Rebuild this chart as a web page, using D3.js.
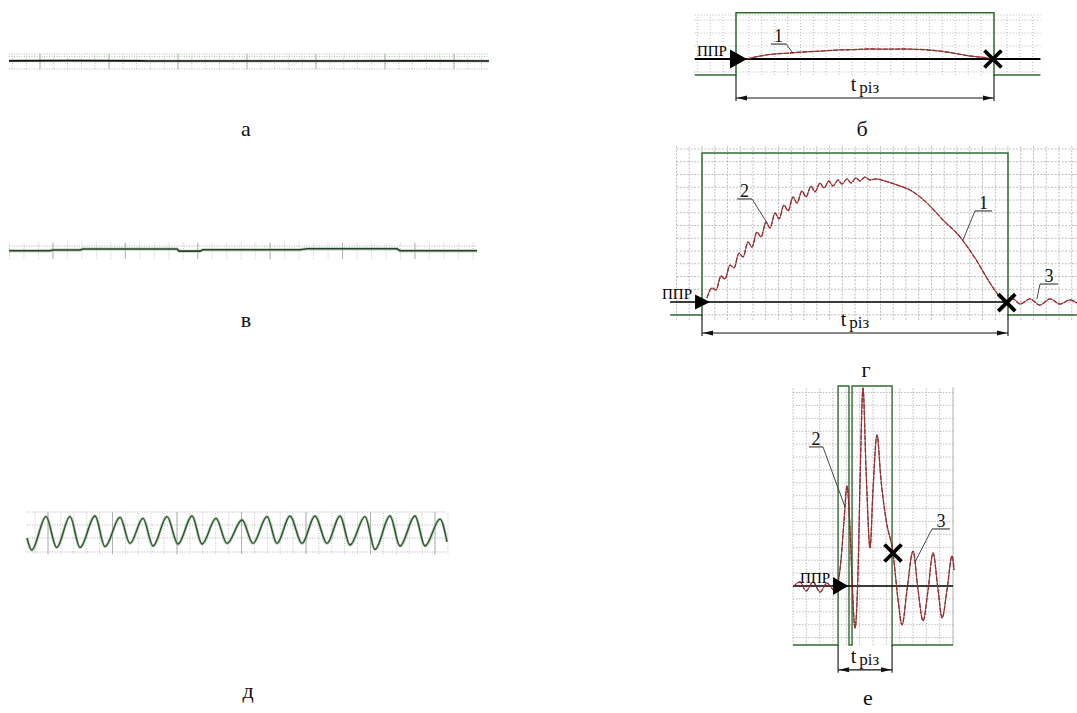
<!DOCTYPE html>
<html><head><meta charset="utf-8">
<script src="https://cdn.jsdelivr.net/npm/d3@7"></script>
<style>body{margin:0;background:#fff} svg{display:block} text{font-family:"Liberation Serif","Times New Roman","DejaVu Serif",serif}</style>
</head><body>
<svg id="c" width="1077" height="713"></svg>
<script>
// ---------------- DATA ----------------
const panelLabels = ["а", "б", "в", "г", "д", "е"];
const markerText = "ППР";
const durationMain = "t";
const durationSub = "різ";
const calloutNames = ["1", "2", "3"];

// panel а: flat trace (time, amplitude)
const traceA = [[0,0.02],[60,0.04],[130,0.02],[140,0],[330,0],[420,0.02],[480,0]];
// panel в: nearly flat trace
const traceV = [[0,-0.09],[41,-0.09],[44,0],[71,0],[74,0.12],[168,0.12],[170,-0.14],[191,-0.14],[194,0.04],[291,0.04],[298,0.16],[388,0.16],[391,-0.09],[468,-0.09]];
// panel д: periodic trace extrema
const traceD = [[0,-0.3],[4.7,-0.9],[19,0.77],[29.7,-0.77],[43,0.77],[53,-0.77],[68,0.8],[78,-0.73],[93,0.73],[103,-0.57],[116,0.68],[126,-0.7],[140,0.77],[151,-0.6],[165,0.8],[175,-0.6],[189,0.68],[200,-0.57],[215,0.6],[226,-0.57],[240,0.77],[250,-0.57],[263,0.8],[275,-0.57],[288,0.8],[300,-0.57],[313,0.8],[323,-0.65],[338,0.77],[348,-0.87],[363,0.8],[373,-0.7],[388,0.8],[398,-0.7],[413,0.64],[420,-0.49]];

// panel б: curve 1 (time div, amplitude div)
const curveB1 = [[0.85,0],[1.47,0.15],[2.64,0.35],[4.19,0.46],[5.19,0.54],[6.5,0.6],[7.83,0.69],[9.1,0.72],[10.39,0.77],[11.7,0.76],[12.95,0.77],[14.0,0.74],[15.04,0.69],[16.0,0.58],[16.82,0.46],[18.14,0.23],[19.46,0.08],[19.92,0]];
const gateB = [0, 20];
const gateLevelsB = [-1.23, 3.56];

// panel г: curves 2 + 1 and 3
const curveG = [[0.39,0.31],[0.78,1.10],[1.10,0.94],[1.49,2.04],[1.80,1.80],[2.20,2.90],[2.51,2.67],[2.90,3.84],[3.22,3.53],[3.61,4.71],[3.92,4.31],[4.31,5.49],[4.63,5.10],[5.02,6.27],[5.33,5.80],[5.73,6.98],[6.04,6.51],[6.43,7.61],[6.75,7.14],[7.14,8.24],[7.45,7.76],[7.84,8.71],[8.16,8.24],[8.55,9.10],[8.86,8.63],[9.25,9.33],[9.57,8.94],[9.96,9.49],[10.27,9.10],[10.67,9.57],[10.98,9.25],[11.37,9.65],[11.69,9.33],[12.08,9.73],[12.39,9.49],[12.78,9.80],[13.18,9.57],[13.65,9.65],[14.35,9.49],[15.29,9.18],[16.31,8.78],[17.65,7.76],[18.90,6.43],[20.24,5.10],[21.41,3.45],[22.59,1.49],[23.37,0.39],[23.76,0]];
const curveG3 = [[23.76,0],[24.4,0.24],[24.94,-0.16],[25.73,0.24],[26.5,-0.24],[27.3,0.24],[28.08,-0.16],[28.86,0.16],[29.4,-0.08]];
const gateG = [0, 24];
const gateLevelsG = [-1.02, 11.69];

// panel е: oscillating curve
const curveE = [[0,-0.08],[0.53,0.31],[0.98,-0.39],[1.50,0.31],[2.03,-0.47],[2.55,0.23],[3.08,-0.31],[3.38,0.31],[3.60,2.02],[3.83,5.12],[4.05,7.75],[4.28,4.34],[4.43,0.47],[4.65,-3.26],[4.88,1.24],[5.03,8.22],[5.25,15.35],[5.48,8.99],[5.78,2.95],[6.00,7.44],[6.30,11.71],[6.60,8.22],[6.98,5.12],[7.50,2.56],[7.88,-1.09],[8.18,-3.02],[8.55,-0.31],[9.00,2.71],[9.38,-0.31],[9.75,-2.71],[10.13,-0.31],[10.50,2.56],[10.88,-0.31],[11.18,-2.48],[11.55,-0.31],[11.93,2.33],[12.08,1.24]];
const gatesE = [[3.38, 4.2], [4.43, 7.43]];
const gateLevelsE = [-4.57, 15.5];
const cutE = [7.5, 2.56];

// ---------------- DRAWING ----------------
const svg = d3.select("#c");
const GRID = "#a8a8a8", GREEN = "#2f6b30", RED = "#a3262a";

function lineGen(xs, ys, curve) {
  return d3.line().x(d => xs(d[0])).y(d => ys(d[1])).curve(curve || d3.curveLinear);
}
function vlines(g, xs, ys, ts, v0, v1, color, dash, w) {
  g.append("g").selectAll("line").data(ts).join("line")
    .attr("x1", d => xs(d)).attr("x2", d => xs(d)).attr("y1", ys(v0)).attr("y2", ys(v1))
    .attr("stroke", color).attr("stroke-width", w || 0.8).attr("stroke-dasharray", dash);
}
function hlines(g, xs, ys, vs, t0, t1, color, dash, w) {
  g.append("g").selectAll("line").data(vs).join("line")
    .attr("y1", d => ys(d)).attr("y2", d => ys(d)).attr("x1", xs(t0)).attr("x2", xs(t1))
    .attr("stroke", color).attr("stroke-width", w || 0.8).attr("stroke-dasharray", dash);
}
function panelLabel(txt, x, y) {
  svg.append("text").attr("x", x).attr("y", y).attr("text-anchor", "middle")
    .attr("font-size", 22).attr("fill", "#111").text(txt);
}
function triangle(g, x, y, w, h) {
  g.append("path").attr("d", `M${x},${y} L${x - w},${y - h / 2} L${x - w},${y + h / 2} Z`).attr("fill", "#000");
  g.append("text").attr("x", x - w - 3).attr("y", y - 3).attr("text-anchor", "end")
    .attr("font-size", 15).attr("fill", "#000").text(markerText);
}
function cross(g, x, y, s) {
  g.append("path").attr("d", `M${x - s},${y - s} L${x + s},${y + s} M${x - s},${y + s} L${x + s},${y - s}`)
    .attr("stroke", "#000").attr("stroke-width", 3.8);
}
function dimension(g, x0, x1, yLow, yDim) {
  const d = g.append("g").attr("stroke", "#111").attr("stroke-width", 1.1);
  d.append("line").attr("x1", x0).attr("x2", x0).attr("y1", yLow).attr("y2", yDim + 3);
  d.append("line").attr("x1", x1).attr("x2", x1).attr("y1", yLow).attr("y2", yDim + 3);
  d.append("line").attr("x1", x0).attr("x2", x1).attr("y1", yDim).attr("y2", yDim);
  g.append("path").attr("d", `M${x0 + 1},${yDim} L${x0 + 11},${yDim - 2.5} L${x0 + 11},${yDim + 2.5} Z M${x1 - 1},${yDim} L${x1 - 11},${yDim - 2.5} L${x1 - 11},${yDim + 2.5} Z`).attr("fill", "#111");
  const t = g.append("text").attr("x", (x0 + x1) / 2).attr("y", yDim - 7).attr("text-anchor", "middle").attr("fill", "#111");
  t.append("tspan").attr("font-size", 20).text(durationMain);
  t.append("tspan").attr("font-size", 17).attr("dx", 3).attr("dy", 2).text(durationSub);
}
function callout(g, label, ux0, ux1, uy, fromLeft, ex, ey) {
  g.append("text").attr("x", (ux0 + ux1) / 2).attr("y", uy - 2).attr("text-anchor", "middle")
    .attr("font-size", 18).attr("fill", "#111").text(label);
  g.append("line").attr("x1", ux0).attr("x2", ux1).attr("y1", uy).attr("y2", uy).attr("stroke", "#222").attr("stroke-width", 1);
  const sx = fromLeft ? ux0 : ux1;
  g.append("line").attr("x1", sx).attr("y1", uy).attr("x2", ex).attr("y2", ey).attr("stroke", "#333").attr("stroke-width", 0.9);
}
function redTrace(g, path) {
  g.append("path").attr("d", path).attr("fill", "none").attr("stroke", "#3a1a1a").attr("stroke-width", 0.7);
  g.append("path").attr("d", path).attr("fill", "none").attr("stroke", RED).attr("stroke-width", 1.3).attr("stroke-dasharray", "5,1.2");
}

// ----- Panel а -----
{
  const g = svg.append("g");
  const xs = d3.scaleLinear().domain([0, 480]).range([9, 489]);
  const ys = d3.scaleLinear().domain([-1, 1]).range([69, 53]);
  const minor = d3.range(3.4, 481, 13.8);
  vlines(g, xs, ys, minor, -1, 0.9, "#b5b5b5", "1,1.5", 0.8);
  vlines(g, xs, ys, minor.filter((d, i) => (i - 2) % 5 === 0), -1, 0.9, "#999", null, 0.7);
  hlines(g, xs, ys, [0.875, 0.55, -1], 0, 480, "#b0b0b0", "1,1.5", 0.9);
  g.append("path").attr("d", lineGen(xs, ys)(traceA)).attr("fill", "none").attr("stroke", "#7fa67f").attr("stroke-width", 3).attr("opacity", 0.5);
  g.append("path").attr("d", lineGen(xs, ys)(traceA)).attr("fill", "none").attr("stroke", "#111").attr("stroke-width", 1.7);
  panelLabel(panelLabels[0], 246, 136);
}
// ----- Panel в -----
{
  const g = svg.append("g");
  const xs = d3.scaleLinear().domain([0, 468]).range([9, 477]);
  const ys = d3.scaleLinear().domain([-1, 1]).range([258, 242]);
  const minor = d3.range(0.5, 469, 14.48);
  vlines(g, xs, ys, minor, -1.1, 0.9, "#b5b5b5", "1,1.5", 0.8);
  vlines(g, xs, ys, minor.filter((d, i) => (i - 3) % 5 === 0), -1.1, 0.9, "#999", null, 0.7);
  hlines(g, xs, ys, [0.5], 0, 468, "#aaa", "1,1.5", 0.9);
  g.append("path").attr("d", lineGen(xs, ys)(traceV)).attr("fill", "none").attr("stroke", "#9cc49c").attr("stroke-width", 3.4).attr("opacity", 0.6);
  g.append("path").attr("d", lineGen(xs, ys)(traceV)).attr("fill", "none").attr("stroke", "#2d3d2d").attr("stroke-width", 1.6);
  panelLabel(panelLabels[2], 246, 327);
}
// ----- Panel д -----
{
  const g = svg.append("g");
  const xs = d3.scaleLinear().domain([0, 420]).range([27, 447]);
  const ys = d3.scaleLinear().domain([-1, 1]).range([552, 512]);
  const minor = d3.range(8.1, 421, 12.9);
  vlines(g, xs, ys, minor, -1.1, 1, "#b5b5b5", "1,1.5", 0.8);
  vlines(g, xs, ys, minor.filter((d, i) => (i - 1) % 5 === 0), -1.1, 1, "#9a9a9a", null, 0.7);
  hlines(g, xs, ys, [1, 0.35, -0.3, -1], 0, 420, "#aaa", "1,1.5", 0.9);
  const p = lineGen(xs, ys, d3.curveMonotoneX)(traceD);
  g.append("path").attr("d", p).attr("fill", "none").attr("stroke", "#8db38d").attr("stroke-width", 2.8).attr("opacity", 0.7);
  g.append("path").attr("d", p).attr("fill", "none").attr("stroke", "#2c4f2c").attr("stroke-width", 1.3);
  panelLabel(panelLabels[4], 248, 698);
}
// ----- Panel б -----
{
  const g = svg.append("g");
  const xs = d3.scaleLinear().domain([0, 20]).range([736, 994]);
  const ys = d3.scaleLinear().domain([0, 1]).range([59, 46]);
  vlines(g, xs, ys, d3.range(-3, 24), -1.23, 3.4, GRID, "1,2", 0.8);
  hlines(g, xs, ys, [-1, 1, 2, 3, 3.38], -3.2, 23.6, GRID, "1,2", 0.8);
  g.append("path").attr("d", lineGen(xs, ys)([[-3.2, gateLevelsB[0]], [gateB[0], gateLevelsB[0]], [gateB[0], gateLevelsB[1]], [gateB[1], gateLevelsB[1]], [gateB[1], gateLevelsB[0]], [23.6, gateLevelsB[0]]]))
    .attr("fill", "none").attr("stroke", GREEN).attr("stroke-width", 1.5);
  g.append("line").attr("x1", xs(-3.2)).attr("x2", xs(23.6)).attr("y1", ys(0)).attr("y2", ys(0)).attr("stroke", "#000").attr("stroke-width", 1.8);
  redTrace(g, lineGen(xs, ys, d3.curveMonotoneX)(curveB1));
  triangle(g, xs(0.85), ys(0), 17, 19);
  cross(g, xs(19.92), ys(0), 8.5);
  dimension(g, xs(gateB[0]), xs(gateB[1]), ys(gateLevelsB[0]), ys(-3));
  callout(g, calloutNames[0], xs(2.71), xs(3.88), ys(1.15), false, xs(4.42), ys(0.46));
  panelLabel(panelLabels[1], 862, 136);
}
// ----- Panel г -----
{
  const g = svg.append("g");
  const xs = d3.scaleLinear().domain([0, 24]).range([702, 1008]);
  const ys = d3.scaleLinear().domain([0, 1]).range([302, 289.25]);
  vlines(g, xs, ys, d3.range(-2, 30), -1.4, 12.3, GRID, "2,1.5", 0.75);
  hlines(g, xs, ys, d3.range(-1, 13), -2, 29.4, GRID, "2,1.5", 0.75);
  g.append("path").attr("d", lineGen(xs, ys)([[-2.5, gateLevelsG[0]], [gateG[0], gateLevelsG[0]], [gateG[0], gateLevelsG[1]], [gateG[1], gateLevelsG[1]], [gateG[1], gateLevelsG[0]], [29.4, gateLevelsG[0]]]))
    .attr("fill", "none").attr("stroke", GREEN).attr("stroke-width", 1.5);
  g.append("line").attr("x1", xs(-2.5)).attr("x2", xs(24)).attr("y1", ys(0)).attr("y2", ys(0)).attr("stroke", "#000").attr("stroke-width", 1.6);
  redTrace(g, lineGen(xs, ys, d3.curveMonotoneX)(curveG));
  redTrace(g, lineGen(xs, ys, d3.curveMonotoneX)(curveG3));
  triangle(g, xs(0.63), ys(0), 15, 15);
  cross(g, xs(23.9), ys(-0.05), 8.5);
  dimension(g, xs(gateG[0]), xs(gateG[1]), ys(gateLevelsG[0]), ys(-2.43));
  callout(g, calloutNames[1], xs(2.75), xs(3.92), ys(8.08), false, xs(5.10), ys(6.20));
  callout(g, calloutNames[0], xs(21.41), xs(22.75), ys(7.14), true, xs(20.47), ys(4.86));
  callout(g, calloutNames[2], xs(26.51), xs(27.92), ys(1.41), true, xs(26.27), ys(0.24));
  panelLabel(panelLabels[3], 866, 377);
}
// ----- Panel е -----
{
  const g = svg.append("g");
  const xs = d3.scaleLinear().domain([0, 12]).range([793, 953]);
  const ys = d3.scaleLinear().domain([0, 1]).range([586, 573.1]);
  vlines(g, xs, ys, d3.range(0, 12), -4.57, 15.4, GRID, "1.5,1.5", 0.75);
  vlines(g, xs, ys, [12], -4.57, 15.4, "#999", null, 0.8);
  hlines(g, xs, ys, d3.range(-4, 16), 0, 12, GRID, "1.5,1.5", 0.75);
  const gp = [[0, gateLevelsE[0]]];
  gatesE.forEach(([a, b]) => { gp.push([a, gateLevelsE[0]], [a, gateLevelsE[1]], [b, gateLevelsE[1]], [b, gateLevelsE[0]]); });
  gp.push([12, gateLevelsE[0]]);
  g.append("path").attr("d", lineGen(xs, ys)(gp)).attr("fill", "none").attr("stroke", GREEN).attr("stroke-width", 1.4);
  g.append("line").attr("x1", xs(0)).attr("x2", xs(12)).attr("y1", ys(0)).attr("y2", ys(0)).attr("stroke", "#000").attr("stroke-width", 1.3);
  redTrace(g, lineGen(xs, ys, d3.curveMonotoneX)(curveE));
  triangle(g, xs(4.13), ys(0), 15, 18);
  cross(g, xs(cutE[0]), ys(cutE[1]), 8.5);
  dimension(g, xs(gatesE[0][0]), xs(gatesE[1][1]), ys(gateLevelsE[0]), ys(-6.5));
  callout(g, calloutNames[1], xs(1.2), xs(2.25), ys(10.78), false, xs(3.9), ys(6.12));
  callout(g, calloutNames[2], xs(10.43), xs(11.78), ys(4.42), true, xs(9.15), ys(1.86));
  panelLabel(panelLabels[5], 868, 705);
}
</script>
</body></html>
